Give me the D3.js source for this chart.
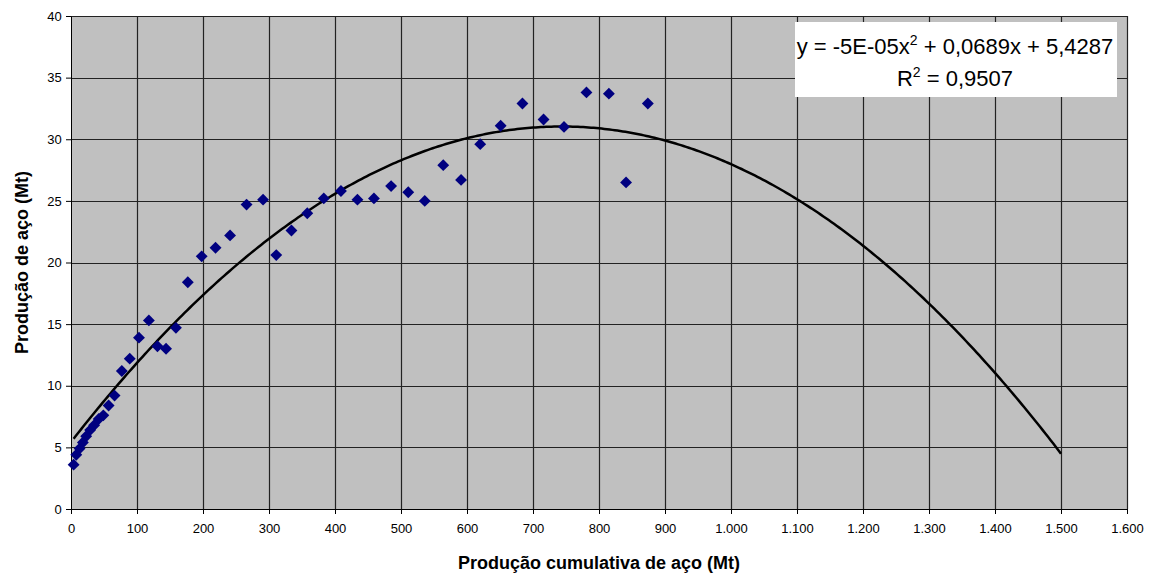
<!DOCTYPE html>
<html>
<head>
<meta charset="utf-8">
<script src="https://cdn.jsdelivr.net/npm/d3@7"></script>
<style>
  body { margin: 0; background: #fff; }
  text { font-family: "Liberation Sans", Arial, sans-serif; }
</style>
</head>
<body>
<div id="chart"></div>
<script>
// cumulative steel production (Mt) vs yearly production (Mt)
var cumulative = [4, 8, 13, 18, 23, 29, 35, 42, 49, 57, 66, 77, 89, 103, 118, 131, 144, 159,
  177, 198, 219, 241, 266, 291, 311, 334, 358, 383, 409, 434, 459, 485, 511, 536,
  564, 591, 620, 651, 684, 716, 747, 781, 815, 841, 874];
var production = [3.6, 4.4, 4.9, 5.4, 5.9, 6.4, 6.8, 7.3, 7.6, 8.4, 9.2, 11.2, 12.2, 13.9, 15.3, 13.2, 13.0, 14.7,
  18.4, 20.5, 21.2, 22.2, 24.7, 25.1, 20.6, 22.6, 24.0, 25.2, 25.8, 25.1, 25.2, 26.2, 25.7, 25.0,
  27.9, 26.7, 29.6, 31.1, 32.9, 31.6, 31.0, 33.8, 33.7, 26.5, 32.9];

// polynomial trendline (shown coefficient -5E-05 is rounded)
var trendA = -4.635e-5, trendB = 0.0689, trendC = 5.4287;
var trendStart = 4, trendEnd = 1500;

var xTicks = d3.range(0, 1601, 100);
var yTicks = d3.range(0, 41, 5);

var svgWidth = 1152, svgHeight = 576;
var margin = { top: 16, right: 25, bottom: 67, left: 71 };
var chartWidth = svgWidth - margin.left - margin.right;
var chartHeight = svgHeight - margin.top - margin.bottom;

var svg = d3.select("#chart").append("svg")
  .attr("width", svgWidth)
  .attr("height", svgHeight);

var g = svg.append("g")
  .attr("transform", `translate(${margin.left},${margin.top})`);

var x = d3.scaleLinear().domain([0, 1600]).range([0, chartWidth]);
var y = d3.scaleLinear().domain([0, 40]).range([chartHeight, 0]);

// plot background
g.append("rect")
  .attr("width", chartWidth)
  .attr("height", chartHeight)
  .attr("fill", "#c0c0c0");

// grid lines
g.append("g").selectAll("line").data(xTicks.slice(1)).enter().append("line")
  .attr("x1", d => Math.round(x(d)) + 0.5).attr("x2", d => Math.round(x(d)) + 0.5)
  .attr("y1", 0).attr("y2", chartHeight)
  .attr("stroke", "#222").attr("stroke-width", 1.2);
g.append("g").selectAll("line").data(yTicks.slice(1)).enter().append("line")
  .attr("y1", d => Math.round(y(d)) + 0.5).attr("y2", d => Math.round(y(d)) + 0.5)
  .attr("x1", 0).attr("x2", chartWidth)
  .attr("stroke", "#222").attr("stroke-width", 1.2);

// axes
var fmt = d3.format(",");
var bottomAxis = d3.axisBottom(x).tickValues(xTicks).tickSize(5).tickSizeOuter(0)
  .tickFormat(d => fmt(d).replace(/,/g, "."));
var leftAxis = d3.axisLeft(y).tickValues(yTicks).tickSize(5).tickSizeOuter(0);

var xa = g.append("g").attr("transform", `translate(0,${chartHeight})`).call(bottomAxis);
var ya = g.append("g").call(leftAxis);
[xa, ya].forEach(function(a) {
  a.select(".domain").attr("stroke", "#000");
  a.selectAll(".tick line").attr("stroke", "#000");
  a.selectAll("text").attr("fill", "#000").style("font-size", "13px");
});
xa.selectAll("text").attr("dy", "1.2em");
ya.selectAll("text").attr("dx", "-0.1em");

// trendline
var trendPts = d3.range(trendStart, trendEnd + 1, 4).map(function(v) {
  return [v, trendA * v * v + trendB * v + trendC];
});
g.append("path")
  .datum(trendPts)
  .attr("fill", "none")
  .attr("stroke", "#000")
  .attr("stroke-width", 2.5)
  .attr("d", d3.line().x(d => x(d[0])).y(d => y(d[1])));

// data points (diamonds)
var diamond = d3.symbol().type(d3.symbolDiamond2).size(90);
g.selectAll(".pt").data(cumulative).enter().append("path")
  .attr("class", "pt")
  .attr("transform", (d, i) => `translate(${x(d)},${y(production[i])})`)
  .attr("d", diamond)
  .attr("fill", "#000080");

// equation box
var box = svg.append("g");
box.append("rect")
  .attr("x", 795).attr("y", 22).attr("width", 322).attr("height", 75)
  .attr("fill", "#fff");
var eq = box.append("text").attr("x", 955).attr("y", 54)
  .attr("text-anchor", "middle").style("font-size", "22px");
eq.append("tspan").text("y = -5E-05x");
eq.append("tspan").attr("dy", -9).style("font-size", "14px").text("2");
eq.append("tspan").attr("dy", 9).text(" + 0,0689x + 5,4287");
var r2 = box.append("text").attr("x", 955).attr("y", 86)
  .attr("text-anchor", "middle").style("font-size", "22px");
r2.append("tspan").text("R");
r2.append("tspan").attr("dy", -9).style("font-size", "14px").text("2");
r2.append("tspan").attr("dy", 9).text(" = 0,9507");

// axis titles
svg.append("text")
  .attr("x", margin.left + chartWidth / 2).attr("y", 569)
  .attr("text-anchor", "middle")
  .style("font-size", "18px").style("font-weight", "bold")
  .text("Produção cumulativa de aço (Mt)");

svg.append("text")
  .attr("transform", `translate(28,${margin.top + chartHeight / 2}) rotate(-90)`)
  .attr("text-anchor", "middle")
  .style("font-size", "18px").style("font-weight", "bold")
  .text("Produção de aço (Mt)");
</script>
</body>
</html>
